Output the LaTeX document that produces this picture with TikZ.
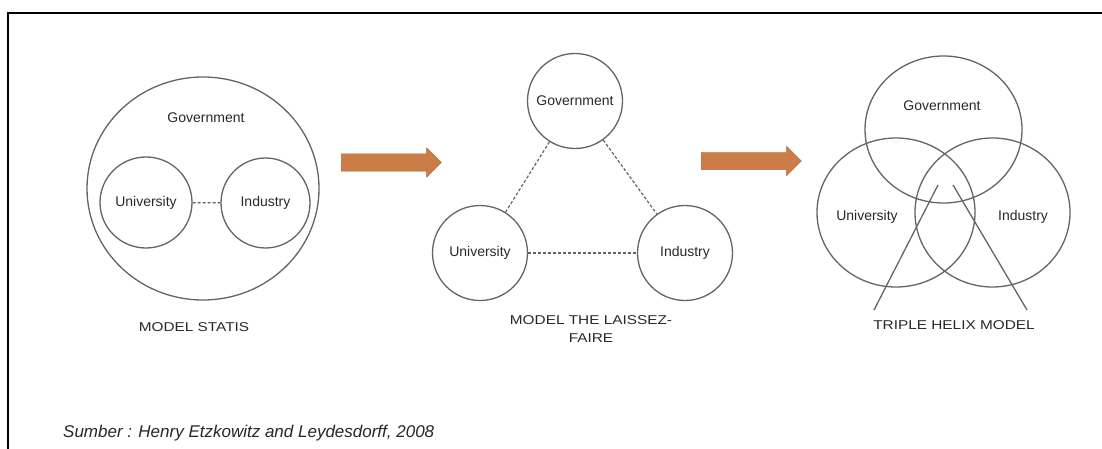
\documentclass[tikz,border=0pt]{standalone}
\usepackage{fontspec}
\setmainfont{Liberation Sans}
\newfontfamily\capfont[FakeStretch=1.2]{Liberation Sans}
\usetikzlibrary{shapes.geometric,shapes.arrows}

\definecolor{ringgray}{RGB}{100,100,100}
\definecolor{labelgray}{RGB}{40,40,40}
\definecolor{arroworange}{RGB}{204,124,70}
\definecolor{arrowedge}{RGB}{180,102,52}

\begin{document}
\begin{tikzpicture}[
    x=1pt, y=-1pt,
    ring/.style={ellipse, draw=ringgray, line width=1.3pt, inner sep=0pt, text=labelgray, font=\fontsize{14}{16}\selectfont},
    disc/.style={circle, draw=ringgray, line width=1.3pt, inner sep=0pt, minimum size=95pt, text=labelgray, font=\fontsize{14}{16}\selectfont},
    lbl/.style={inner sep=0pt, text=labelgray, font=\fontsize{14}{16}\selectfont},
    caption/.style={inner sep=0pt, align=center, text=labelgray, font=\capfont\fontsize{12.8}{18}\selectfont},
    link/.style={draw=ringgray, line width=1.2pt, dash pattern=on 3pt off 2pt},
    helix/.style={draw=ringgray, line width=1.3pt},
    bigarrow/.style={single arrow, draw=arrowedge, fill=arroworange, minimum height=100pt, minimum width=29pt, single arrow head extend=6pt, inner sep=8.5pt}
]
\useasboundingbox (0,0) rectangle (1102,449);

% Frame
\draw[line width=1.6pt] (8,449) -- (8,13) -- (1102,13);

% Model statis
\node[ring, minimum width=232pt, minimum height=223pt] (sgov) at (203,188.5) {};
\node[lbl] (sgovtext) at (206,118) {Government};
\node[ring, minimum width=92pt, minimum height=91pt] (suni) at (146,202.5) {University};
\node[ring, minimum width=89pt, minimum height=90pt] (sind) at (265.5,203) {Industry};
\draw[link] (suni) -- (sind);
\node[caption] (scap) at (194,327) {MODEL STATIS};

% Arrows between models
\node[bigarrow] (arrowa) at (387,162.5) {};
\node[bigarrow] (arrowb) at (747,161) {};

% Model laissez-faire
\node[disc] (lgov) at (575,101) {Government};
\node[disc] (luni) at (480,253) {University};
\node[disc] (lind) at (685,253) {Industry};
\draw[link] (lgov) -- (luni);
\draw[link] (lgov) -- (lind);
\draw[link] (luni) -- (lind);
\node[caption] (lcap) at (591,329) {MODEL THE LAISSEZ-\\FAIRE};

% Triple helix
\node[ring, minimum width=157pt, minimum height=147pt] (tgov) at (943.5,129.5) {};
\node[ring, minimum width=158pt, minimum height=149pt] (tuni) at (896,212.5) {};
\node[ring, minimum width=155pt, minimum height=149pt] (tind) at (992.5,212.5) {};
\node[lbl] (tgovtext) at (942,106) {Government};
\node[lbl] (tunitext) at (867,217) {University};
\node[lbl] (tindtext) at (1023,217) {Industry};
\coordinate (hlt) at (938,185);
\coordinate (hlb) at (874,310);
\coordinate (hrt) at (953,185);
\coordinate (hrb) at (1027,310);
\draw[helix] (hlt) -- (hlb);
\draw[helix] (hrt) -- (hrb);
\node[caption] (tcap) at (954,325) {TRIPLE HELIX MODEL};

% Source
\node[anchor=west, inner sep=0pt, text=black!85, font=\itshape\fontsize{17}{20}\selectfont] (source) at (63,433) {Sumber : Henry Etzkowitz and Leydesdorff, 2008};

\end{tikzpicture}
\end{document}
